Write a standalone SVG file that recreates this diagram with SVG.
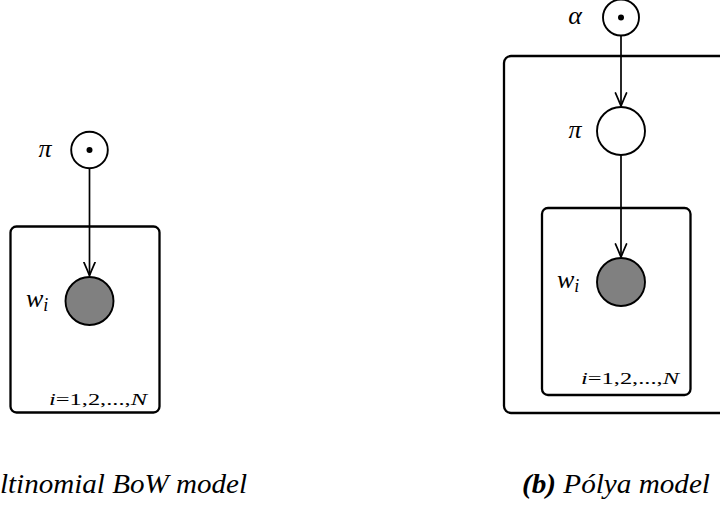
<svg xmlns="http://www.w3.org/2000/svg" width="720" height="507" viewBox="0 0 720 507">
<style>
.plate{fill:none;stroke:#000;stroke-width:2.3}
.node{stroke:#000;stroke-width:1.9}
.open{fill:#fff}
.obs{fill:#808080}
.edge{fill:none;stroke:#000;stroke-width:1.7}
.math{font-family:"Liberation Serif","DejaVu Serif",serif;font-style:italic;font-size:26px}
.idx{font-family:"Liberation Serif","DejaVu Serif",serif;font-size:17px}
.cap{font-family:"Liberation Serif","DejaVu Serif",serif;font-style:italic;font-size:28px}
</style>
<defs>
<marker id="arr" markerWidth="16" markerHeight="14" refX="14" refY="7" orient="auto" markerUnits="userSpaceOnUse">
<path d="M1,1.5 Q9,5 14,7 Q9,9 1,12.5" fill="none" stroke="#000" stroke-width="1.8" stroke-linejoin="round" stroke-linecap="round"/>
</marker>
</defs>
<rect width="720" height="507" fill="#fff"/>

<g id="plateA">
<rect class="plate" x="10.5" y="226.5" width="149" height="186" rx="6"/>
<text class="idx" x="49" y="405" textLength="98" lengthAdjust="spacingAndGlyphs"><tspan font-style="italic">i</tspan>=1,2,...,<tspan font-style="italic">N</tspan></text>
</g>
<g id="plateB_outer">
<rect class="plate" x="504" y="56" width="240" height="357" rx="7"/>
</g>
<g id="plateB_inner">
<rect class="plate" x="542" y="208" width="148.5" height="187" rx="6"/>
<text class="idx" x="581" y="384" textLength="98" lengthAdjust="spacingAndGlyphs"><tspan font-style="italic">i</tspan>=1,2,...,<tspan font-style="italic">N</tspan></text>
</g>

<g id="connectors">
<line class="edge" x1="89.5" y1="168.5" x2="89.5" y2="275.5" marker-end="url(#arr)"/>
<line class="edge" x1="621" y1="35.5" x2="621" y2="106" marker-end="url(#arr)"/>
<line class="edge" x1="621" y1="155" x2="621" y2="257" marker-end="url(#arr)"/>
</g>

<g id="piA">
<circle class="node open" cx="89.5" cy="150" r="18.3"/>
<circle cx="89.5" cy="150" r="3"/>
<text class="math" x="45" y="157" text-anchor="middle">π</text>
</g>
<g id="wA">
<circle class="node obs" cx="89.5" cy="301" r="24"/>
<text class="math" x="26" y="307" font-size="28">w<tspan font-size="18" dy="4">i</tspan></text>
</g>

<g id="alphaB">
<circle class="node open" cx="621" cy="17.5" r="18"/>
<circle cx="621" cy="17.5" r="3"/>
<text class="math" x="575" y="24" text-anchor="middle">α</text>
</g>
<g id="piB">
<circle class="node open" cx="621" cy="131" r="24"/>
<text class="math" x="575" y="138" text-anchor="middle">π</text>
</g>
<g id="wB">
<circle class="node obs" cx="621" cy="282" r="24"/>
<text class="math" x="557" y="288" font-size="28">w<tspan font-size="18" dy="4">i</tspan></text>
</g>

<g id="captions">
<text class="cap" x="-80" y="493" textLength="327" lengthAdjust="spacingAndGlyphs"><tspan font-weight="bold">(a)</tspan> Multinomial BoW model</text>
<text class="cap" x="522" y="493" textLength="188" lengthAdjust="spacingAndGlyphs"><tspan font-weight="bold">(b)</tspan> Pólya model</text>
</g>
</svg>
